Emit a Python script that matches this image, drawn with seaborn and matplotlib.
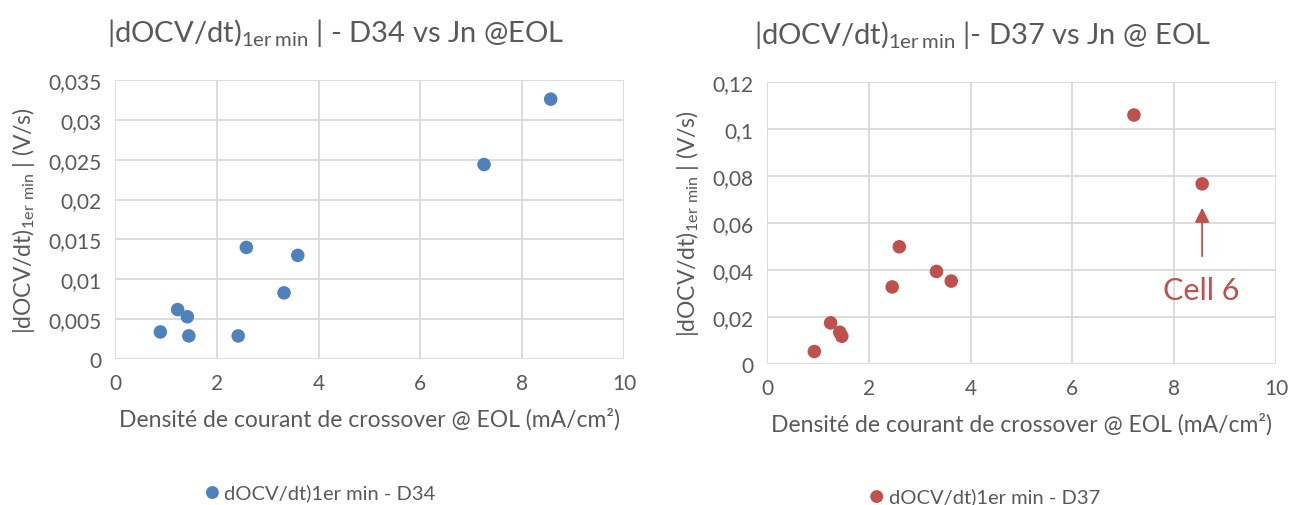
import pandas as pd
import seaborn as sns
import matplotlib.pyplot as plt

# values
x_d34 = [0.89, 1.23, 1.42, 1.45, 2.42, 2.58, 3.32, 3.59, 7.25, 8.56]
y_d34 = [0.0034, 0.0062, 0.0053, 0.0029, 0.0029, 0.0140, 0.0083, 0.0130, 0.0244, 0.0326]

x_d37 = [0.93, 1.25, 1.43, 1.47, 2.46, 2.60, 3.33, 3.62, 7.21, 8.55]
y_d37 = [0.0053, 0.0175, 0.0135, 0.0118, 0.0328, 0.0499, 0.0394, 0.0353, 0.106, 0.0767]

x_ticks = [0, 2, 4, 6, 8, 10]
y_ticks_d34 = [0, 0.005, 0.01, 0.015, 0.02, 0.025, 0.03, 0.035]
y_ticks_d37 = [0, 0.02, 0.04, 0.06, 0.08, 0.1, 0.12]
y_labels_d34 = ['0', '0,005', '0,01', '0,015', '0,02', '0,025', '0,03', '0,035']
y_labels_d37 = ['0', '0,02', '0,04', '0,06', '0,08', '0,1', '0,12']

sns.set_style('white')
plt.rcParams['font.family'] = ['Lato', 'DejaVu Sans']
plt.rcParams['mathtext.default'] = 'regular'

grey = '#595959'
grid = '#d9d9d9'
blue = '#4F81BD'
red = '#C0504D'

fig = plt.figure(figsize=(13, 5.06), dpi=100)
ax1 = fig.add_axes([0.0885, 0.2885, 0.3915, 0.5514])
ax2 = fig.add_axes([0.59, 0.2787, 0.3915, 0.557])

df34 = pd.DataFrame({'x': x_d34, 'y': y_d34})
df37 = pd.DataFrame({'x': x_d37, 'y': y_d37})

sns.scatterplot(data=df34, x='x', y='y', ax=ax1, color=blue, s=95,
                edgecolor='none', legend=False, zorder=3)
sns.scatterplot(data=df37, x='x', y='y', ax=ax2, color=red, s=95,
                edgecolor='none', legend=False, zorder=3)

xlab = 'Densité de courant de crossover @ EOL (mA/cm²)'
ylab = r'|dOCV/dt)$_{1er\ min}$ | (V/s)'

for ax, yt, yl in [(ax1, y_ticks_d34, y_labels_d34), (ax2, y_ticks_d37, y_labels_d37)]:
    ax.set_xlim(0, 10)
    ax.set_ylim(yt[0], yt[-1])
    ax.set_xticks(x_ticks)
    ax.set_xticklabels([str(t) for t in x_ticks])
    ax.set_yticks(yt)
    ax.set_yticklabels(yl)
    ax.grid(True, color=grid, linewidth=1.3)
    ax.set_axisbelow(True)
    for s in ax.spines.values():
        s.set_visible(False)
    ax.tick_params(length=0, labelsize=15, colors=grey, pad=10)
    ax.set_xlabel(xlab, fontsize=16.5, color=grey, labelpad=10)
    ax.set_ylabel(ylab, fontsize=16.5, color=grey, labelpad=8)

fig.text(0.258, 0.935, r'|dOCV/dt)$_{1er\,min}$ | - D34 vs Jn @EOL',
         ha='center', va='center', fontsize=21, color=grey)
fig.text(0.756, 0.93, r'|dOCV/dt)$_{1er\,min}$ |- D37 vs Jn @ EOL',
         ha='center', va='center', fontsize=21, color=grey)

# Cell 6 annotation
ax2.annotate('', xy=(8.55, 0.0677), xytext=(8.55, 0.0447),
             arrowprops=dict(arrowstyle='-|>', color=red, lw=1.3, mutation_scale=22))
ax2.text(8.54, 0.0315, 'Cell 6', color=red, fontsize=22, ha='center', va='center')

fig.legend(handles=ax1.collections[:1], labels=['dOCV/dt)1er min - D34'],
           loc='center', bbox_to_anchor=(0.247, 0.026), frameon=False,
           fontsize=14.5, labelcolor=grey, handlelength=0.6, handletextpad=0.3,
           markerscale=0.95)
fig.legend(handles=ax2.collections[:1], labels=['dOCV/dt)1er min - D37'],
           loc='center', bbox_to_anchor=(0.758, 0.018), frameon=False,
           fontsize=14.5, labelcolor=grey, handlelength=0.6, handletextpad=0.3,
           markerscale=0.95)

fig.savefig('out.png', dpi=100)
